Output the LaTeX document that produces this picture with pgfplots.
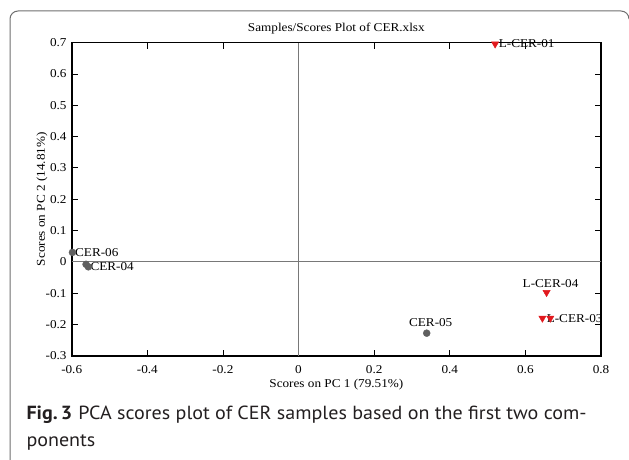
\documentclass[border=0pt]{standalone}
\usepackage{fontspec}
\setmainfont{Liberation Serif}
\newfontfamily\plotfont[FakeStretch=1.1]{Liberation Serif}
\newfontfamily\capfont[FakeStretch=1.055]{PT Sans}
\usepackage{pgfplots}
\pgfplotsset{compat=1.18}

\definecolor{ptgray}{RGB}{95,95,95}
\definecolor{ptred}{RGB}{225,25,30}
\definecolor{framegray}{RGB}{110,110,110}
\definecolor{zerogray}{RGB}{120,120,120}
\definecolor{capink}{RGB}{35,31,32}

% PCA scores (PC 1, PC 2)
\pgfplotstableread{
x       y
-0.598  0.030
-0.562 -0.008
-0.556 -0.016
 0.339 -0.228
}\cerscores
\pgfplotstableread{
x       y
 0.520  0.696
 0.656 -0.098
 0.645 -0.180
 0.666 -0.180
}\lcerscores

\begin{document}
\begin{tikzpicture}[x=1pt,y=1pt]
\useasboundingbox (0,0) rectangle (629,459);
% figure frame
\draw[framegray, line width=1pt] (10,-2) -- (10,440)
  arc[start angle=180, end angle=90, radius=8] -- (621,448)
  arc[start angle=90, end angle=0, radius=8];

\begin{axis}[
  at={(71.7pt,103.3pt)}, anchor=south west,
  scale only axis, width=529.3pt, height=313pt,
  xmin=-0.6, xmax=0.8, ymin=-0.3, ymax=0.7,
  xtick={-0.6,-0.4,-0.2,0,0.2,0.4,0.6,0.8},
  ytick={-0.3,-0.2,-0.1,0,0.1,0.2,0.3,0.4,0.5,0.6,0.7},
  tick align=inside, major tick length=6pt,
  tick style={black, line width=0.8pt},
  axis line style={black, line width=1.6pt},
  /pgf/number format/assume math mode=true,
  /pgf/number format/fixed,
  ticklabel style={font=\plotfont\fontsize{12}{12}\selectfont},
  xticklabel style={anchor=base, inner sep=0pt, yshift=-17.8pt},
  yticklabel style={anchor=east, inner sep=0pt, xshift=-5pt},
  label style={font=\plotfont\fontsize{12}{12}\selectfont},
  xlabel={Scores on PC 1 (79.51\%)},
  xlabel style={at={(axis description cs:0.5,0)}, anchor=base, inner sep=0pt, yshift=-31.3pt},
  ylabel={Scores on PC 2 (14.81\%)},
  ylabel style={at={(axis description cs:-0.0561,0.5)}, anchor=center, inner sep=0pt},
  title={Samples/Scores Plot of CER.xlsx},
  title style={at={(axis description cs:0.5,1)}, anchor=base, inner sep=0pt, yshift=5.5pt,
    font=\plotfont\fontsize{12}{12}\selectfont},
  clip=false,
]
% zero reference lines
\draw[zerogray, line width=0.8pt] (axis cs:0,-0.3) -- (axis cs:0,0.7);
\draw[zerogray, line width=0.8pt] (axis cs:-0.6,0) -- (axis cs:0.8,0);

\addplot[only marks, mark=*, mark size=3.5pt, color=ptgray,
  mark options={fill=ptgray, draw=ptgray}] table[x=x, y=y] {\cerscores};
\addplot[only marks, mark=triangle*, mark size=4.2pt, color=ptred,
  mark options={rotate=180, fill=ptred, draw=ptred}] table[x=x, y=y] {\lcerscores};

\begin{scope}[every node/.style={font=\plotfont\fontsize{12}{12}\selectfont, inner sep=0pt}]
\node[anchor=west, xshift=2.5pt] at (axis cs:-0.598,0.030) {CER-06};
\node[anchor=west, xshift=2pt] at (axis cs:-0.556,-0.016) {CER-04};
\node[anchor=west, xshift=3.5pt] at (axis cs:0.520,0.696) {L-CER-01};
\node[anchor=south, xshift=4pt, yshift=5pt] at (axis cs:0.656,-0.098) {L-CER-04};
\node[anchor=south, xshift=4pt, yshift=6pt] at (axis cs:0.339,-0.228) {CER-05};
\node[anchor=west] at (axis cs:0.656,-0.180) {L-CER-03};
\end{scope}
\end{axis}

% caption
\node[anchor=base west, inner sep=0pt, text=capink] at (26.3,39.7)
  {\capfont\fontsize{19}{19}\selectfont\textbf{Fig.\,3}\hspace{6pt}PCA scores plot of CER samples based on the first two com-};
\node[anchor=base west, inner sep=0pt, text=capink] at (26.3,12.3)
  {\capfont\fontsize{19}{19}\selectfont ponents};
\end{tikzpicture}
\end{document}
